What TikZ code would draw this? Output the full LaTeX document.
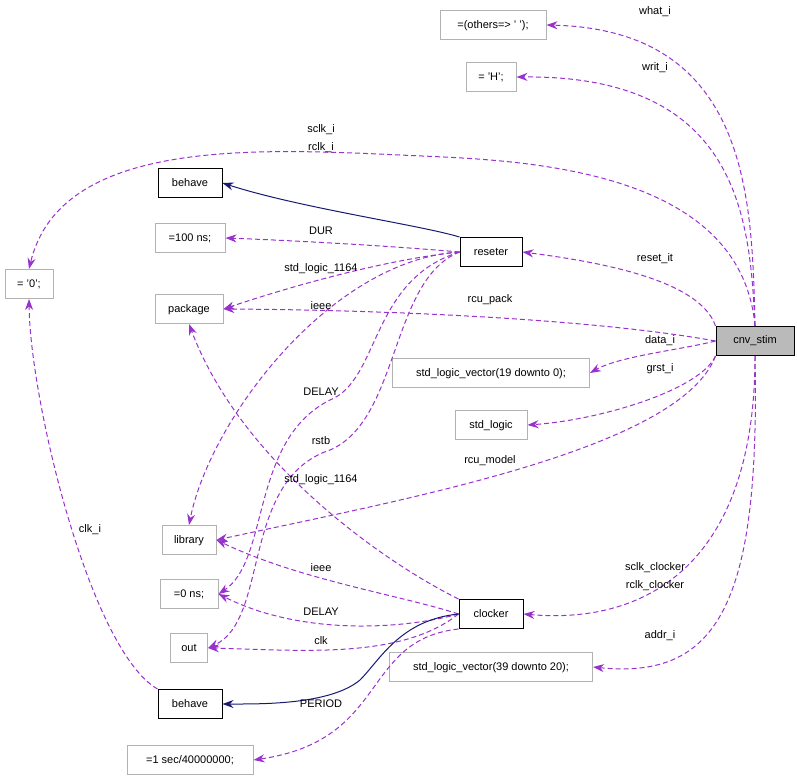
\documentclass[tikz,border=0pt]{standalone}
\usepackage{fontspec}
\setmainfont{Liberation Sans}
\usetikzlibrary{arrows.meta}
\begin{document}
\begin{tikzpicture}[x=1pt,y=-1pt,font=\fontsize{11}{13}\selectfont,
  gbox/.style={draw=black!30,line width=1pt,inner sep=0pt,minimum height=29pt,text depth=0pt},
  bbox/.style={draw=black,line width=1pt,inner sep=0pt,minimum height=29pt},
  lab/.style={inner sep=1pt}]
\useasboundingbox (0,0) rectangle (797,781);
\definecolor{pur}{RGB}{153,50,204}
\definecolor{nav}{RGB}{25,25,112}
\tikzset{pe/.style={draw=pur,line width=1pt,dash pattern=on 5pt off 3pt,-{Stealth[length=11pt,width=8pt,fill=pur]}},
ne/.style={draw=nav,line width=1pt,-{Stealth[length=11pt,width=8pt,fill=nav]}}}
\node[bbox,fill=black!27,minimum width=78pt] (cnv) at (755,341) {cnv\_stim};
\node[gbox,minimum width=106pt] (what) at (493,25) {=(others=> ' ');};
\node[gbox,minimum width=50pt] (H) at (491,77) {= 'H';};
\node[gbox,minimum width=48pt] (zero) at (29,284) {= '0';};
\node[bbox,minimum width=64pt] (beh1) at (190,183) {behave};
\node[gbox,minimum width=70pt] (ns100) at (190,238) {=100 ns;};
\node[bbox,minimum width=62pt] (res) at (491,252) {reseter};
\node[gbox,minimum width=68pt] (pkg) at (189,309) {package};
\node[gbox,minimum width=197pt] (slv19) at (491,373) {std\_logic\_vector(19 downto 0);};
\node[gbox,minimum width=72pt] (sl) at (491,425) {std\_logic};
\node[gbox,minimum width=54pt] (lib) at (189,540) {library};
\node[gbox,minimum width=58pt] (ns0) at (189,594) {=0 ns;};
\node[bbox,minimum width=64pt] (clk) at (491,614) {clocker};
\node[gbox,minimum width=37pt] (out) at (189,648) {out};
\node[gbox,minimum width=203pt] (slv39) at (491,667) {std\_logic\_vector(39 downto 20);};
\node[bbox,minimum width=64pt] (beh2) at (190,704) {behave};
\node[gbox,minimum width=126pt] (sec) at (190,760) {=1 sec/40000000;};
% cnv_stim edges
\draw[pe] (cnv.north) .. controls (752,200) and (750,30) .. (what.east);
\node[lab] at (655,12) {what\_i};
\draw[pe] (cnv.north) .. controls (750,220) and (740,75) .. (H.east);
\node[lab] at (655,68) {writ\_i};
\draw[pe] (cnv.north) .. controls (740,160) and (500,160) .. (400,155) .. controls (250,148) and (60,140) .. (zero.north);
\node[lab] at (321,130) {sclk\_i};
\node[lab] at (321,148) {rclk\_i};
\draw[pe] (cnv.north west) .. controls (700,280) and (600,262) .. (res.east);
\node[lab] at (655,259) {reset\_it};
\draw[pe] (cnv.west) .. controls (600,320) and (400,310) .. (pkg.east);
\node[lab] at (490,300) {rcu\_pack};
\draw[pe] (cnv.west) .. controls (680,350) and (620,356) .. (slv19.east);
\node[lab] at (660,341) {data\_i};
\draw[pe] (cnv.south west) .. controls (700,390) and (600,420) .. (sl.east);
\node[lab] at (660,369) {grst\_i};
\draw[pe] (cnv.south west) .. controls (680,450) and (400,500) .. (lib.east);
\node[lab] at (490,461) {rcu\_model};
\draw[pe] (cnv.south) .. controls (755,560) and (650,625) .. (clk.east);
\node[lab] at (655,568) {sclk\_clocker};
\node[lab] at (655,586) {rclk\_clocker};
\draw[pe] (cnv.south) .. controls (760,600) and (720,680) .. (slv39.east);
\node[lab] at (660,636) {addr\_i};
% reseter edges
\draw[ne] (res.north west) .. controls (420,225) and (300,208) .. (beh1.east);
\draw[pe] (res.west) .. controls (380,245) and (280,240) .. (ns100.east);
\node[lab] at (321,231) {DUR};
\draw[pe] (res.west) .. controls (380,260) and (280,290) .. (pkg.east);
\node[lab] at (321,269) {std\_logic\_1164};
\draw[pe] (res.west) .. controls (330,260) and (210,420) .. (lib.north);
\node[lab] at (321,306) {ieee};
\draw[pe] (res.west) .. controls (370,280) and (380,380) .. (330,400) .. controls (250,440) and (270,560) .. (ns0.east);
\node[lab] at (321,392) {DELAY};
\draw[pe] (res.west) .. controls (390,280) and (400,420) .. (330,450) .. controls (240,480) and (270,620) .. (out.east);
\node[lab] at (321,441) {rstb};
% clocker edges
\draw[pe] (clk.north west) .. controls (380,560) and (240,460) .. (pkg.south);
\node[lab] at (321,480) {std\_logic\_1164};
\draw[pe] (clk.west) .. controls (400,595) and (300,580) .. (lib.east);
\node[lab] at (321,568) {ieee};
\draw[pe] (clk.west) .. controls (400,630) and (300,635) .. (ns0.east);
\node[lab] at (321,612) {DELAY};
\draw[pe] (clk.west) .. controls (400,660) and (300,650) .. (out.east);
\node[lab] at (321,641) {clk};
\draw[ne] (clk.west) .. controls (400,620) and (380,660) .. (360,680) .. controls (330,705) and (260,704) .. (beh2.east);
\draw[pe] (clk.south west) .. controls (360,640) and (390,740) .. (sec.east);
\node[lab] at (321,704) {PERIOD};
\draw[pe] (beh2.north west) .. controls (90,650) and (30,400) .. (zero.south);
\node[lab] at (90,530) {clk\_i};
\end{tikzpicture}
\end{document}
